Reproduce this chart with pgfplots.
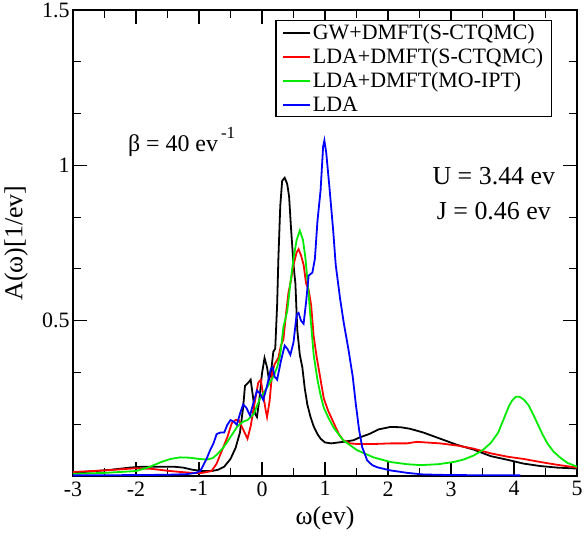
\documentclass[border=0pt]{standalone}
\usepackage{pgfplots}
\pgfplotsset{compat=1.18}
\usepackage{fontspec}
\setmainfont{Liberation Serif}
\definecolor{lgreen}{RGB}{0,235,0}
\begin{document}
\begin{tikzpicture}
\begin{axis}[name=ax,
  scale only axis, width=504bp, height=466bp,
  xmin=-3, xmax=5, ymin=0, ymax=1.5,
  xtick={-3,-2,-1,0,1,2,3,4,5},
  xticklabels={-3,-2,-1,0,1,2,3,4,5},
  ytick={0,0.5,1,1.5},
  yticklabels={,0.5,1,1.5},
  minor x tick num=1, minor y tick num=2,
  tick align=inside, xtick pos=both, ytick pos=both,
  major tick length=14bp, minor tick length=8bp,
  every tick/.style={line width=1.2pt, black},
  axis line style={line width=1.5pt},
  /pgf/number format/assume math mode=true,
  tick label style={font=\fontsize{22}{26}\selectfont},
  xticklabel style={yshift=-2bp},
  xlabel={ω(ev)}, ylabel={A(ω)[1/ev]},
  label style={font=\fontsize{26}{30}\selectfont},
  x label style={at={(axis description cs:0.5,-0.0897)}, anchor=center},
  y label style={at={(axis description cs:-0.113,0.5)}, anchor=center},
  legend style={draw=black, line width=1.2pt, at={(0.95,0.979)}, anchor=north east,
    font=\fontsize{22}{25}\selectfont, inner xsep=6bp, inner ysep=2bp, row sep=3.5bp},
  legend cell align=left,
  legend image code/.code={\draw[mark repeat=2,mark phase=2,#1] plot coordinates {(0bp,0bp) (13bp,0bp) (27bp,0bp)};},
  legend image post style={line width=1.8pt},
  clip=true,
]
\addplot[black, line width=1.8pt] coordinates {
(-3.0,0.010) (-2.7,0.015) (-2.4,0.020) (-2.1,0.027) (-1.9,0.030) (-1.6,0.030)
(-1.4,0.030) (-1.25,0.027) (-1.1,0.020) (-0.95,0.016) (-0.8,0.016) (-0.7,0.020)
(-0.6,0.030) (-0.5,0.055) (-0.42,0.090) (-0.35,0.14) (-0.3,0.22) (-0.27,0.29)
(-0.22,0.30) (-0.18,0.31) (-0.14,0.25) (-0.11,0.20) (-0.08,0.19) (-0.04,0.25)
(0.0,0.33) (0.04,0.38) (0.08,0.35) (0.11,0.31) (0.14,0.33) (0.18,0.40)
(0.21,0.41) (0.24,0.55) (0.26,0.70) (0.29,0.87) (0.32,0.95) (0.36,0.96)
(0.40,0.94) (0.43,0.90) (0.46,0.80) (0.50,0.68) (0.53,0.62) (0.56,0.47)
(0.60,0.39) (0.64,0.35) (0.68,0.28) (0.72,0.23) (0.77,0.19) (0.82,0.16)
(0.88,0.135) (0.93,0.12) (1.0,0.108) (1.1,0.105) (1.29,0.11) (1.45,0.115)
(1.56,0.125) (1.7,0.135) (1.85,0.15) (2.04,0.158) (2.2,0.157) (2.35,0.152)
(2.56,0.14) (2.83,0.12) (3.1,0.10) (3.36,0.085) (3.63,0.064) (3.9,0.052)
(4.15,0.040) (4.42,0.032) (4.69,0.027) (5.0,0.024)
};
\addlegendentry{GW+DMFT(S-CTQMC)}
\addplot[red, line width=1.8pt] coordinates {
(-3.0,0.013) (-2.5,0.018) (-2.0,0.025) (-1.75,0.023) (-1.5,0.017) (-1.3,0.013)
(-1.1,0.010) (-0.95,0.010) (-0.8,0.016) (-0.72,0.04) (-0.64,0.08) (-0.55,0.125)
(-0.48,0.17) (-0.42,0.18) (-0.37,0.18) (-0.3,0.15) (-0.23,0.12) (-0.18,0.16)
(-0.13,0.22) (-0.06,0.30) (-0.02,0.31) (0.02,0.26) (0.06,0.21) (0.08,0.19)
(0.12,0.24) (0.16,0.33) (0.2,0.36) (0.26,0.38) (0.3,0.42) (0.34,0.44)
(0.38,0.52) (0.42,0.59) (0.46,0.63) (0.5,0.68) (0.55,0.72) (0.58,0.73)
(0.62,0.71) (0.66,0.68) (0.7,0.62) (0.74,0.60) (0.78,0.55) (0.82,0.45)
(0.87,0.38) (0.93,0.31) (0.98,0.25) (1.05,0.21) (1.14,0.17) (1.22,0.135)
(1.29,0.115) (1.4,0.105) (1.51,0.103) (1.77,0.103) (2.04,0.105) (2.3,0.105)
(2.46,0.11) (2.6,0.108) (2.83,0.105) (3.1,0.098) (3.36,0.088) (3.63,0.073)
(3.9,0.062) (4.15,0.055) (4.42,0.045) (4.69,0.036) (5.0,0.027)
};
\addlegendentry{LDA+DMFT(S-CTQMC)}
\addplot[lgreen, line width=1.8pt] coordinates {
(-3.0,0.007) (-2.5,0.010) (-2.0,0.016) (-1.8,0.028) (-1.6,0.045) (-1.45,0.055)
(-1.3,0.060) (-1.15,0.059) (-1.0,0.055) (-0.87,0.053) (-0.78,0.058) (-0.71,0.070)
(-0.62,0.09) (-0.55,0.11) (-0.47,0.135) (-0.39,0.16) (-0.3,0.175) (-0.23,0.18)
(-0.13,0.20) (-0.03,0.25) (0.08,0.285) (0.18,0.32) (0.24,0.35) (0.29,0.39)
(0.34,0.48) (0.4,0.53) (0.45,0.62) (0.5,0.70) (0.55,0.76) (0.6,0.79)
(0.65,0.76) (0.69,0.70) (0.73,0.61) (0.77,0.51) (0.82,0.39) (0.88,0.31)
(0.93,0.26) (0.98,0.22) (1.06,0.185) (1.14,0.155) (1.29,0.115) (1.51,0.083)
(1.77,0.060) (2.04,0.045) (2.3,0.038) (2.52,0.035) (2.8,0.038) (3.04,0.045)
(3.2,0.053) (3.36,0.066) (3.5,0.083) (3.63,0.106) (3.75,0.14) (3.84,0.185)
(3.92,0.225) (3.97,0.243) (4.03,0.255) (4.09,0.255) (4.16,0.245) (4.23,0.228)
(4.3,0.20) (4.37,0.17) (4.45,0.135) (4.53,0.105) (4.63,0.078) (4.74,0.058)
(4.85,0.042) (5.0,0.030)
};
\addlegendentry{LDA+DMFT(MO-IPT)}
\addplot[blue, line width=1.8pt] coordinates {
(-3.0,0.002) (-2.0,0.003) (-1.5,0.004) (-1.2,0.006) (-1.05,0.010) (-0.98,0.016)
(-0.93,0.035) (-0.87,0.060) (-0.82,0.085) (-0.77,0.105) (-0.72,0.135) (-0.66,0.14)
(-0.6,0.14) (-0.55,0.165) (-0.5,0.18) (-0.45,0.175) (-0.4,0.165) (-0.35,0.20)
(-0.3,0.23) (-0.25,0.22) (-0.19,0.195) (-0.13,0.24) (-0.08,0.275) (-0.03,0.265)
(0.02,0.245) (0.08,0.29) (0.14,0.345) (0.17,0.35) (0.2,0.32) (0.24,0.31)
(0.3,0.37) (0.36,0.42) (0.4,0.41) (0.45,0.39) (0.5,0.43) (0.55,0.52)
(0.58,0.525) (0.62,0.50) (0.66,0.49) (0.7,0.56) (0.74,0.645) (0.8,0.655)
(0.84,0.70) (0.88,0.82) (0.93,0.92) (0.97,1.06) (0.99,1.08) (1.02,1.04)
(1.07,0.93) (1.13,0.79) (1.17,0.68) (1.24,0.57) (1.3,0.49) (1.37,0.41)
(1.44,0.32) (1.49,0.23) (1.54,0.15) (1.59,0.093) (1.67,0.05) (1.75,0.035)
(1.83,0.028) (2.04,0.018) (2.31,0.010) (2.56,0.005) (3.0,0.003) (4.1,0.002)
};
\addlegendentry{LDA}
\node[anchor=base west, font=\fontsize{24}{28}\selectfont, inner sep=0pt] at (axis cs:-2.13,1.045) {β = 40 ev\kern3bp\raisebox{0.55em}{\fontsize{17}{17}\selectfont -1}};
\node[anchor=center, font=\fontsize{26}{28}\selectfont, inner sep=0pt] at (axis cs:3.68,0.965) {U = 3.44 ev};
\node[anchor=center, font=\fontsize{26}{28}\selectfont, inner sep=0pt] at (axis cs:3.68,0.853) {J = 0.46 ev};
\end{axis}
\pgfresetboundingbox
\path ([shift={(-73bp,-59bp)}]ax.south west) rectangle ([shift={(8bp,10bp)}]ax.north east);
\end{tikzpicture}
\end{document}
